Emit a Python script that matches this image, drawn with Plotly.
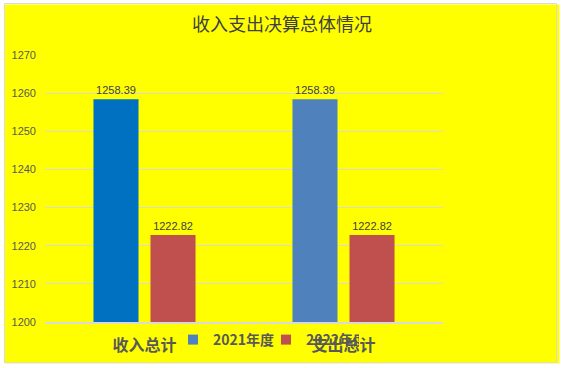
import plotly.graph_objects as go

categories = ["收入总计", "支出总计"]
series_names = ["2021年度", "2022年度"]
values_2021 = [1258.39, 1258.39]
values_2022 = [1222.82, 1222.82]
labels_2021 = ["1258.39", "1258.39"]
labels_2022 = ["1222.82", "1222.82"]

c2021_points = ["#0070C0", "#4F81BD"]
c2021 = "#4F81BD"
c2022 = "#C0504D"

L, R, T, B = 45, 121, 55, 46
W, H = 564, 368
pw, ph = W - L - R, H - T - B

def px(xp):
    return (xp - L) / pw

def py(yp):
    return (H - B - yp) / ph

fig = go.Figure()
fig.add_trace(go.Bar(x=categories, y=values_2021, name=series_names[0],
                     marker=dict(color=c2021_points, line=dict(width=0)),
                     text=labels_2021, textposition="outside",
                     textfont=dict(size=11, color="#404040", family="Liberation Sans"),
                     showlegend=False, cliponaxis=False))
fig.add_trace(go.Bar(x=categories, y=values_2022, name=series_names[1],
                     marker=dict(color=c2022, line=dict(width=0)),
                     text=labels_2022, textposition="outside",
                     textfont=dict(size=11, color="#404040", family="Liberation Sans"),
                     showlegend=False, cliponaxis=False))
# legend entries
for nm, col in zip(series_names, [c2021, c2022]):
    fig.add_trace(go.Scatter(x=[None], y=[None], mode="markers", name=nm,
                             marker=dict(symbol="square", size=10, color=col),
                             showlegend=True))

# white outer band + light gray border
fig.add_shape(type="rect", xref="paper", yref="paper",
              x0=px(0), x1=px(W), y0=py(H), y1=py(0),
              fillcolor="rgba(0,0,0,0)", line=dict(color="white", width=9), layer="above")
fig.add_shape(type="rect", xref="paper", yref="paper",
              x0=px(4.5), x1=px(556.5), y0=py(362.5), y1=py(3.5),
              fillcolor="rgba(0,0,0,0)", line=dict(color="#D9D9D9", width=1), layer="above")

fig.update_layout(
    width=W, height=H,
    margin=dict(l=L, r=R, t=T, b=B, autoexpand=False),
    paper_bgcolor="#FFFF00",
    plot_bgcolor="#FFFF00",
    barmode="group",
    bargap=0.427,
    bargroupgap=0.21,
    title=dict(text="收入支出决算总体情况", x=282 / W, xanchor="center",
               y=1 - 25 / H, yanchor="middle", yref="container",
               font=dict(size=18, color="#404040", family="Noto Sans CJK SC")),
    legend=dict(orientation="h", x=px(266), xanchor="center", y=py(340), yanchor="middle",
                bgcolor="rgba(0,0,0,0)",
                font=dict(size=14, color="#595959", family="Noto Sans CJK SC", weight="bold"),
                itemwidth=30, tracegroupgap=0, entrywidth=48),
    xaxis=dict(showgrid=False, showline=True, linecolor="#D9D9D9", linewidth=2,
               ticks="", ticklabelstandoff=8,
               tickfont=dict(size=16, color="#595959", family="Noto Sans CJK SC", weight="bold")),
    yaxis=dict(range=[1200, 1270], dtick=10, showgrid=True, gridcolor="#D9D9D9",
               gridwidth=1, zeroline=False, showline=False, ticks="",
               ticklabelstandoff=8,
               tickfont=dict(size=11, color="#595959", family="Liberation Sans")),
)

fig.write_html("out.html", config={"displayModeBar": False},
               post_script="document.body.style.margin='0';")
